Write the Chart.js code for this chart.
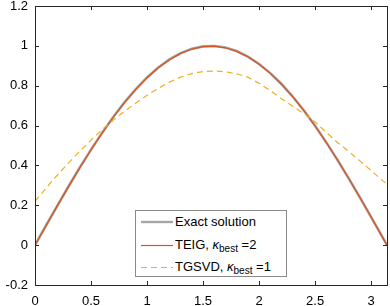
<!DOCTYPE html>
<html>
<head>
<meta charset="utf-8">
<script src="https://cdn.jsdelivr.net/npm/chart.js@4/dist/chart.umd.min.js"></script>
<style>
  html, body { margin: 0; padding: 0; background: #fff; }
  #wrap { position: relative; width: 390px; height: 306px; }
  #legend {
    position: absolute; left: 135px; top: 210px; width: 150px; height: 65px;
    border: 1px solid #8a8a8a; background: #fff;
    font-family: "Liberation Sans", Arial, sans-serif; font-size: 13px; color: #000;
  }
  .row { position: absolute; left: 0; height: 18px; line-height: 18px; white-space: nowrap; }
  .sample { position: absolute; left: 5px; top: 5px; }
  .lab { position: absolute; left: 39px; top: 0; }
  sub { font-size: 10px; vertical-align: -3px; line-height: 0; }
</style>
</head>
<body>
<div id="wrap">
  <canvas id="chart" width="390" height="306"></canvas>
  <div id="legend">
    <div class="row" style="top:2px">
      <svg class="sample" width="32" height="8"><line x1="0" y1="4" x2="32" y2="4" stroke="#a6a6a6" stroke-width="2.4"/></svg>
      <span class="lab">Exact solution</span></div>
    <div class="row" style="top:25px">
      <svg class="sample" width="32" height="8"><line x1="0" y1="4.5" x2="32" y2="4.5" stroke="#d95319" stroke-width="1.2"/></svg>
      <span class="lab">TEIG, <i>κ</i><sub>best</sub> =2</span></div>
    <div class="row" style="top:47px">
      <svg class="sample" width="32" height="8"><line x1="0" y1="4.5" x2="32" y2="4.5" stroke="#edb120" stroke-width="1.2" stroke-dasharray="6 4"/></svg>
      <span class="lab">TGSVD, <i>κ</i><sub>best</sub> =1</span></div>
  </div>
</div>
<script>
// sample points (x)
const xs = [0, 0.1, 0.2, 0.3, 0.4, 0.5, 0.6, 0.7, 0.8, 0.9, 1.0, 1.1, 1.2, 1.3, 1.4, 1.5, 1.6,
  1.7, 1.8, 1.9, 2.0, 2.1, 2.2, 2.3, 2.4, 2.5, 2.6, 2.7, 2.8, 2.9, 3.0, 3.1, 3.1416];

const exactValues = [0, 0.0998, 0.1987, 0.2955, 0.3894, 0.4794, 0.5646, 0.6442, 0.7174, 0.7833,
  0.8415, 0.8912, 0.9320, 0.9636, 0.9854, 0.9975, 0.9996, 0.9917, 0.9738, 0.9463, 0.9093,
  0.8632, 0.8085, 0.7457, 0.6755, 0.5985, 0.5155, 0.4274, 0.3350, 0.2392, 0.1411, 0.0416, 0];

const teigValues = [0, 0.0995, 0.1982, 0.2948, 0.3885, 0.4784, 0.5634, 0.6430, 0.7162, 0.7821,
  0.8402, 0.8898, 0.9306, 0.9622, 0.9840, 0.9961, 0.9982, 0.9903, 0.9724, 0.9450, 0.9081,
  0.8621, 0.8075, 0.7449, 0.6748, 0.5979, 0.5150, 0.4270, 0.3347, 0.2390, 0.1410, 0.0416, 0];

const tgsvdValues = [0.22, 0.287, 0.352, 0.413, 0.471, 0.527, 0.58, 0.628, 0.672, 0.713,
  0.752, 0.787, 0.818, 0.843, 0.861, 0.871, 0.874, 0.870, 0.86, 0.843, 0.812,
  0.775, 0.735, 0.697, 0.66, 0.618, 0.566, 0.515, 0.47, 0.423, 0.374, 0.325, 0.305];

const xTicks = [0, 0.5, 1, 1.5, 2, 2.5, 3];
const yTicks = [-0.2, 0, 0.2, 0.4, 0.6, 0.8, 1, 1.2];

const toPoints = (vals) => xs.map((x, i) => ({ x: x, y: vals[i] }));

const axisColor = "#262626";

// box around the plot with inward tick marks on all sides
const boxPlugin = {
  id: "box",
  afterDraw(chart) {
    const { ctx, chartArea: a, scales } = chart;
    ctx.save();
    ctx.strokeStyle = axisColor;
    ctx.lineWidth = 1;
    ctx.strokeRect(a.left + 0.5, a.top + 0.5, a.right - a.left, a.bottom - a.top);
    ctx.beginPath();
    xTicks.forEach((t) => {
      const px = Math.round(scales.x.getPixelForValue(t)) + 0.5;
      ctx.moveTo(px, a.bottom); ctx.lineTo(px, a.bottom - 4);
      ctx.moveTo(px, a.top); ctx.lineTo(px, a.top + 4);
    });
    yTicks.forEach((t) => {
      const py = Math.round(scales.y.getPixelForValue(t)) + 0.5;
      ctx.moveTo(a.left, py); ctx.lineTo(a.left + 4, py);
      ctx.moveTo(a.right, py); ctx.lineTo(a.right - 4, py);
    });
    ctx.stroke();
    ctx.restore();
  },
};

new Chart(document.getElementById("chart").getContext("2d"), {
  type: "line",
  data: {
    datasets: [
      {
        label: "Exact solution",
        data: toPoints(exactValues),
        borderColor: "#a6a6a6",
        borderWidth: 2.6,
        pointRadius: 0,
        tension: 0,
        order: 3,
      },
      {
        label: "TEIG",
        data: toPoints(teigValues),
        borderColor: "#d95319",
        borderWidth: 1.2,
        pointRadius: 0,
        tension: 0,
        order: 2,
      },
      {
        label: "TGSVD",
        data: toPoints(tgsvdValues),
        borderColor: "#edb120",
        borderWidth: 1.2,
        borderDash: [6, 4],
        pointRadius: 0,
        tension: 0,
        order: 1,
      },
    ],
  },
  options: {
    responsive: false,
    animation: false,
    layout: { padding: { top: 6, right: 3, left: 0, bottom: 0 } },
    plugins: { legend: { display: false }, tooltip: { enabled: false } },
    scales: {
      x: {
        type: "linear",
        min: 0,
        max: 3.1416,
        afterFit: (s) => { s.height = 21; s.paddingLeft = 0; s.paddingRight = 0; },
        afterBuildTicks: (s) => { s.ticks = xTicks.map((v) => ({ value: v })); },
        grid: { display: false, drawTicks: false },
        border: { display: false },
        ticks: {
          padding: 9,
          color: "#000",
          font: { family: "'Liberation Sans', Arial, sans-serif", size: 13 },
          maxRotation: 0,
          callback: (v) => String(v),
        },
      },
      y: {
        type: "linear",
        min: -0.2,
        max: 1.2,
        afterFit: (s) => { s.width = 35; s.paddingTop = 0; s.paddingBottom = 0; },
        afterBuildTicks: (s) => { s.ticks = yTicks.map((v) => ({ value: v })); },
        grid: { display: false, drawTicks: false },
        border: { display: false },
        ticks: {
          padding: 7,
          color: "#000",
          font: { family: "'Liberation Sans', Arial, sans-serif", size: 13 },
          callback: (v) => String(Math.round(v * 10) / 10),
        },
      },
    },
  },
  plugins: [boxPlugin],
});
</script>
</body>
</html>
